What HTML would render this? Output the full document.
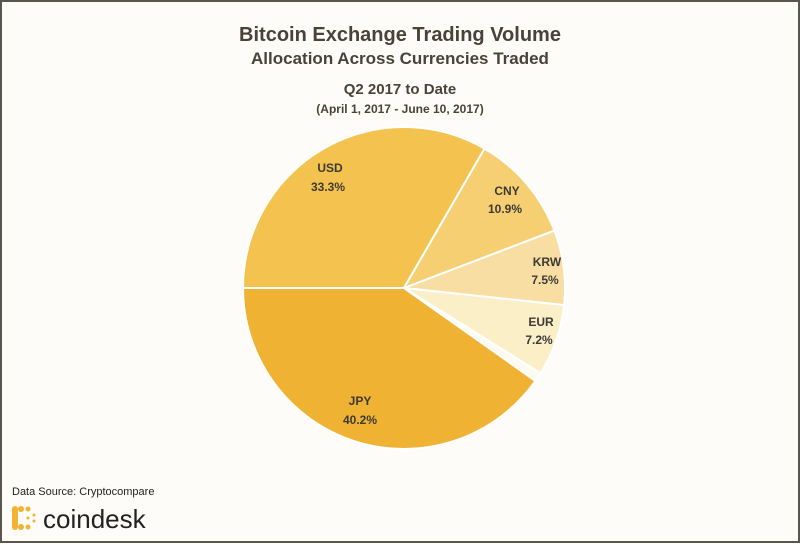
<!DOCTYPE html><html><head><style>
body{margin:0;background:#fff}
.w{position:relative;width:796px;height:539px;border:2px solid #5a554e;background:#fdfcf8;font-family:"Liberation Sans",sans-serif;color:#4a4238;overflow:hidden}
.t{position:absolute;left:0;width:796px;text-align:center;font-weight:bold}
</style></head><body><div class="w">
<div class="t" style="top:22px;font-size:20px">Bitcoin Exchange Trading Volume</div>
<div class="t" style="top:47px;font-size:17px">Allocation Across Currencies Traded</div>
<div class="t" style="top:79px;font-size:15px">Q2 2017 to Date</div>
<div class="t" style="top:100px;font-size:12px">(April 1, 2017 - June 10, 2017)</div>
<svg style="position:absolute;left:-2px;top:-2px" width="800" height="545">
<g stroke="#fff" stroke-width="2" stroke-linejoin="round">
<path d="M404,288 L243,288 A161,161 0 0 1 484.5,148.6 Z" fill="#f3c24f"/>
<path d="M404,288 L484.5,148.6 A161,161 0 0 1 554.4,230.6 Z" fill="#f5cf72"/>
<path d="M404,288 L554.4,230.6 A161,161 0 0 1 564.1,305.1 Z" fill="#f8dea2"/>
<path d="M404,288 L564.1,305.1 A161,161 0 0 1 540.5,373.3 Z" fill="#fbefc8"/>
<path d="M404,288 L540.5,373.3 A161,161 0 0 1 535.4,381 Z" fill="#fdfaf0"/>
<path d="M404,288 L535.4,381 A161,161 0 0 1 243,288 Z" fill="#f0b233"/>
</g>
<g font-family="Liberation Sans,sans-serif" font-size="12" font-weight="bold" fill="#3d3a35" text-anchor="middle">
<text x="330" y="172">USD</text><text x="328" y="191">33.3%</text>
<text x="507" y="195">CNY</text><text x="505" y="213">10.9%</text>
<text x="547" y="266">KRW</text><text x="545" y="284">7.5%</text>
<text x="541" y="326">EUR</text><text x="539" y="344">7.2%</text>
<text x="360" y="405">JPY</text><text x="360" y="424">40.2%</text>
</g>
<text x="12" y="495" font-family="Liberation Sans,sans-serif" font-size="11" fill="#222">Data Source: Cryptocompare</text>
<g fill="#f2b233">
<rect x="12" y="506" width="6" height="24" rx="3"/>
<circle cx="21" cy="509" r="3"/><circle cx="28" cy="509" r="2.5"/>
<circle cx="21" cy="527" r="3"/><circle cx="28" cy="527" r="2.5"/>
<circle cx="34" cy="515" r="1.5"/><circle cx="34" cy="521" r="1.5"/><circle cx="28" cy="518" r="1.5"/>
</g>
<text x="43" y="528" font-family="Liberation Sans,sans-serif" font-size="26" fill="#222">coindesk</text>
</svg>
</div></body></html>
